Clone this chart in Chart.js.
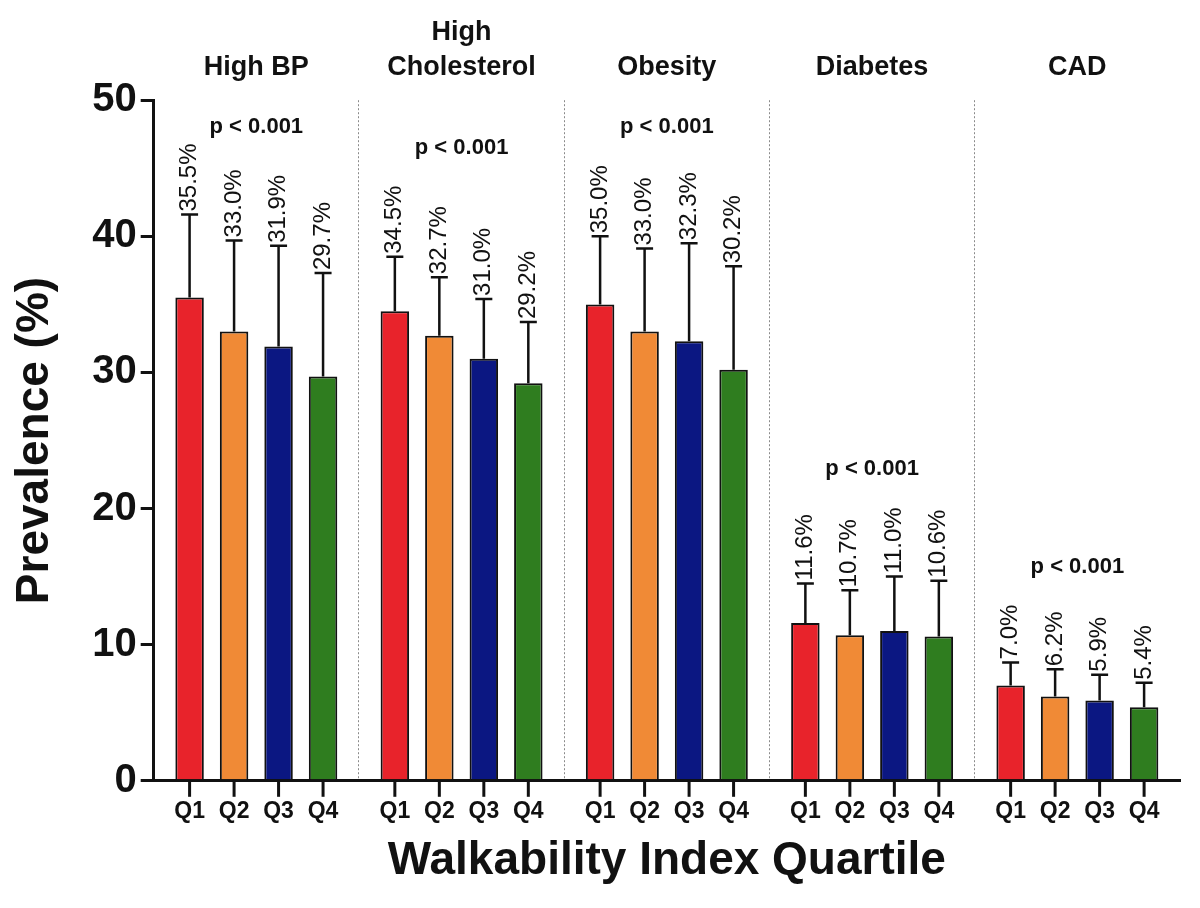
<!DOCTYPE html>
<html>
<head>
<meta charset="utf-8">
<title>Prevalence by Walkability Index Quartile</title>
<script src="https://cdn.jsdelivr.net/npm/chart.js@4.4.1/dist/chart.umd.min.js"></script>
<style>
  html, body { margin: 0; padding: 0; background: #fff; }
  #wrap { width: 1200px; height: 908px; }
</style>
</head>
<body>
<div id="wrap"><canvas id="chart"></canvas></div>
<script>
// ---- DATA ----
const groups = [["High BP"], ["High", "Cholesterol"], ["Obesity"], ["Diabetes"], ["CAD"]];
const quartiles = ["Q1", "Q2", "Q3", "Q4"];

// prevalence (%) per group, one array per walkability quartile
const q1Values = [35.5, 34.5, 35.0, 11.6, 7.0];
const q2Values = [33.0, 32.7, 33.0, 10.7, 6.2];
const q3Values = [31.9, 31.0, 32.3, 11.0, 5.9];
const q4Values = [29.7, 29.2, 30.2, 10.6, 5.4];

// upper error bar length
const q1Errors = [6.1, 4.0, 5.0, 2.9, 1.7];
const q2Errors = [6.7, 4.3, 6.1, 3.3, 2.0];
const q3Errors = [7.4, 4.4, 7.2, 4.0, 1.9];
const q4Errors = [7.6, 4.5, 7.6, 4.1, 1.8];

const pLabels = ["p < 0.001", "p < 0.001", "p < 0.001", "p < 0.001", "p < 0.001"];
const yTicks = [0, 10, 20, 30, 40, 50];

// ---- STYLE ----
const FONT = "'Liberation Sans', Arial, Helvetica, sans-serif";
const INK = "#111";
const COLORS = ["#e8232b", "#f08a36", "#0b1782", "#2f7d1f"];

Chart.defaults.font.family = FONT;
Chart.defaults.color = INK;

// error bars, rotated value labels, p-values, and the Q1..Q4 ticks under the axis
const annotate = {
  id: "annotate",
  afterDatasetsDraw(chart) {
    const { ctx, chartArea } = chart;
    const y = chart.scales.y;
    const x = chart.scales.x;
    const groupTops = groups.map(() => Infinity);
    ctx.save();
    chart.data.datasets.forEach((ds, di) => {
      const meta = chart.getDatasetMeta(di);
      meta.data.forEach((bar, i) => {
        const top = y.getPixelForValue(ds.data[i] + ds.errors[i]);
        ctx.strokeStyle = INK;
        ctx.lineWidth = 2.5;
        ctx.beginPath();
        ctx.moveTo(bar.x, bar.y);
        ctx.lineTo(bar.x, top);
        ctx.moveTo(bar.x - 8.5, top);
        ctx.lineTo(bar.x + 8.5, top);
        ctx.stroke();

        const text = ds.data[i].toFixed(1) + "%";
        ctx.font = "24px " + FONT;
        const w = ctx.measureText(text).width;
        ctx.save();
        ctx.translate(bar.x, top - 3);
        ctx.rotate(-Math.PI / 2);
        ctx.fillStyle = INK;
        ctx.textAlign = "left";
        ctx.textBaseline = "middle";
        ctx.fillText(text, 0, 0);
        ctx.restore();
        groupTops[i] = Math.min(groupTops[i], top - 3 - w);
      });
    });

    ctx.font = "bold 22px " + FONT;
    ctx.fillStyle = INK;
    ctx.textAlign = "center";
    ctx.textBaseline = "middle";
    pLabels.forEach((p, i) => {
      const cy = Math.max(chartArea.top + 27, groupTops[i] - 38);
      ctx.fillText(p, x.getPixelForValue(i), cy);
    });
    ctx.restore();
  },
  afterDraw(chart) {
    const { ctx, chartArea } = chart;
    ctx.save();
    ctx.strokeStyle = INK;
    ctx.lineWidth = 3;
    ctx.fillStyle = INK;
    ctx.font = "bold 23px " + FONT;
    ctx.textAlign = "center";
    ctx.textBaseline = "middle";
    chart.data.datasets.forEach((ds, di) => {
      chart.getDatasetMeta(di).data.forEach(bar => {
        ctx.beginPath();
        ctx.moveTo(bar.x, chartArea.bottom);
        ctx.lineTo(bar.x, chartArea.bottom + 16);
        ctx.stroke();
        ctx.fillText(ds.label, bar.x, chartArea.bottom + 31);
      });
    });
    ctx.restore();
  }
};

const valueSets = [q1Values, q2Values, q3Values, q4Values];
const errorSets = [q1Errors, q2Errors, q3Errors, q4Errors];

const datasets = quartiles.map((q, i) => ({
  label: q,
  data: valueSets[i],
  errors: errorSets[i],
  backgroundColor: COLORS[i],
  borderColor: INK,
  borderWidth: 2,
  categoryPercentage: 0.867,
  barPercentage: 0.64
}));

new Chart(document.getElementById("chart"), {
  type: "bar",
  data: { labels: groups, datasets },
  options: {
    responsive: true,
    maintainAspectRatio: false,
    animation: false,
    layout: { padding: { top: 8, right: 20, bottom: 19, left: 4 } },
    plugins: { legend: { display: false }, tooltip: { enabled: false } },
    scales: {
      x: {
        type: "category",
        offset: true,
        grid: {
          offset: true,
          drawTicks: false,
          lineWidth: 1,
          color: c => (c.type === "tick" && c.index > 0) ? "#8a8a8a" : "rgba(0,0,0,0)"
        },
        border: { color: INK, width: 3, dash: [2, 2] },
        ticks: { display: false },
        title: {
          display: true,
          text: "Walkability Index Quartile",
          font: { size: 46, weight: "bold" },
          color: INK,
          padding: { top: 53, bottom: 0 }
        }
      },
      x2: {
        type: "category",
        position: "top",
        labels: groups,
        offset: true,
        grid: { display: false },
        border: { display: false },
        ticks: {
          font: { size: 27, weight: "bold", lineHeight: 1.3 },
          color: INK,
          padding: 7,
          maxRotation: 0,
          autoSkip: false
        }
      },
      y: {
        min: 0,
        max: 50,
        afterBuildTicks: s => { s.ticks = yTicks.map(v => ({ value: v })); },
        grid: {
          drawOnChartArea: false,
          drawTicks: true,
          tickLength: 13,
          lineWidth: 3,
          tickWidth: 3,
          tickColor: INK
        },
        border: { color: INK, width: 3 },
        ticks: { font: { size: 40, weight: "bold" }, color: INK, padding: 4 },
        title: {
          display: true,
          text: "Prevalence (%)",
          font: { size: 46, weight: "bold" },
          color: INK,
          padding: { top: 4, bottom: 25 }
        }
      }
    }
  },
  plugins: [annotate]
});
</script>
</body>
</html>
